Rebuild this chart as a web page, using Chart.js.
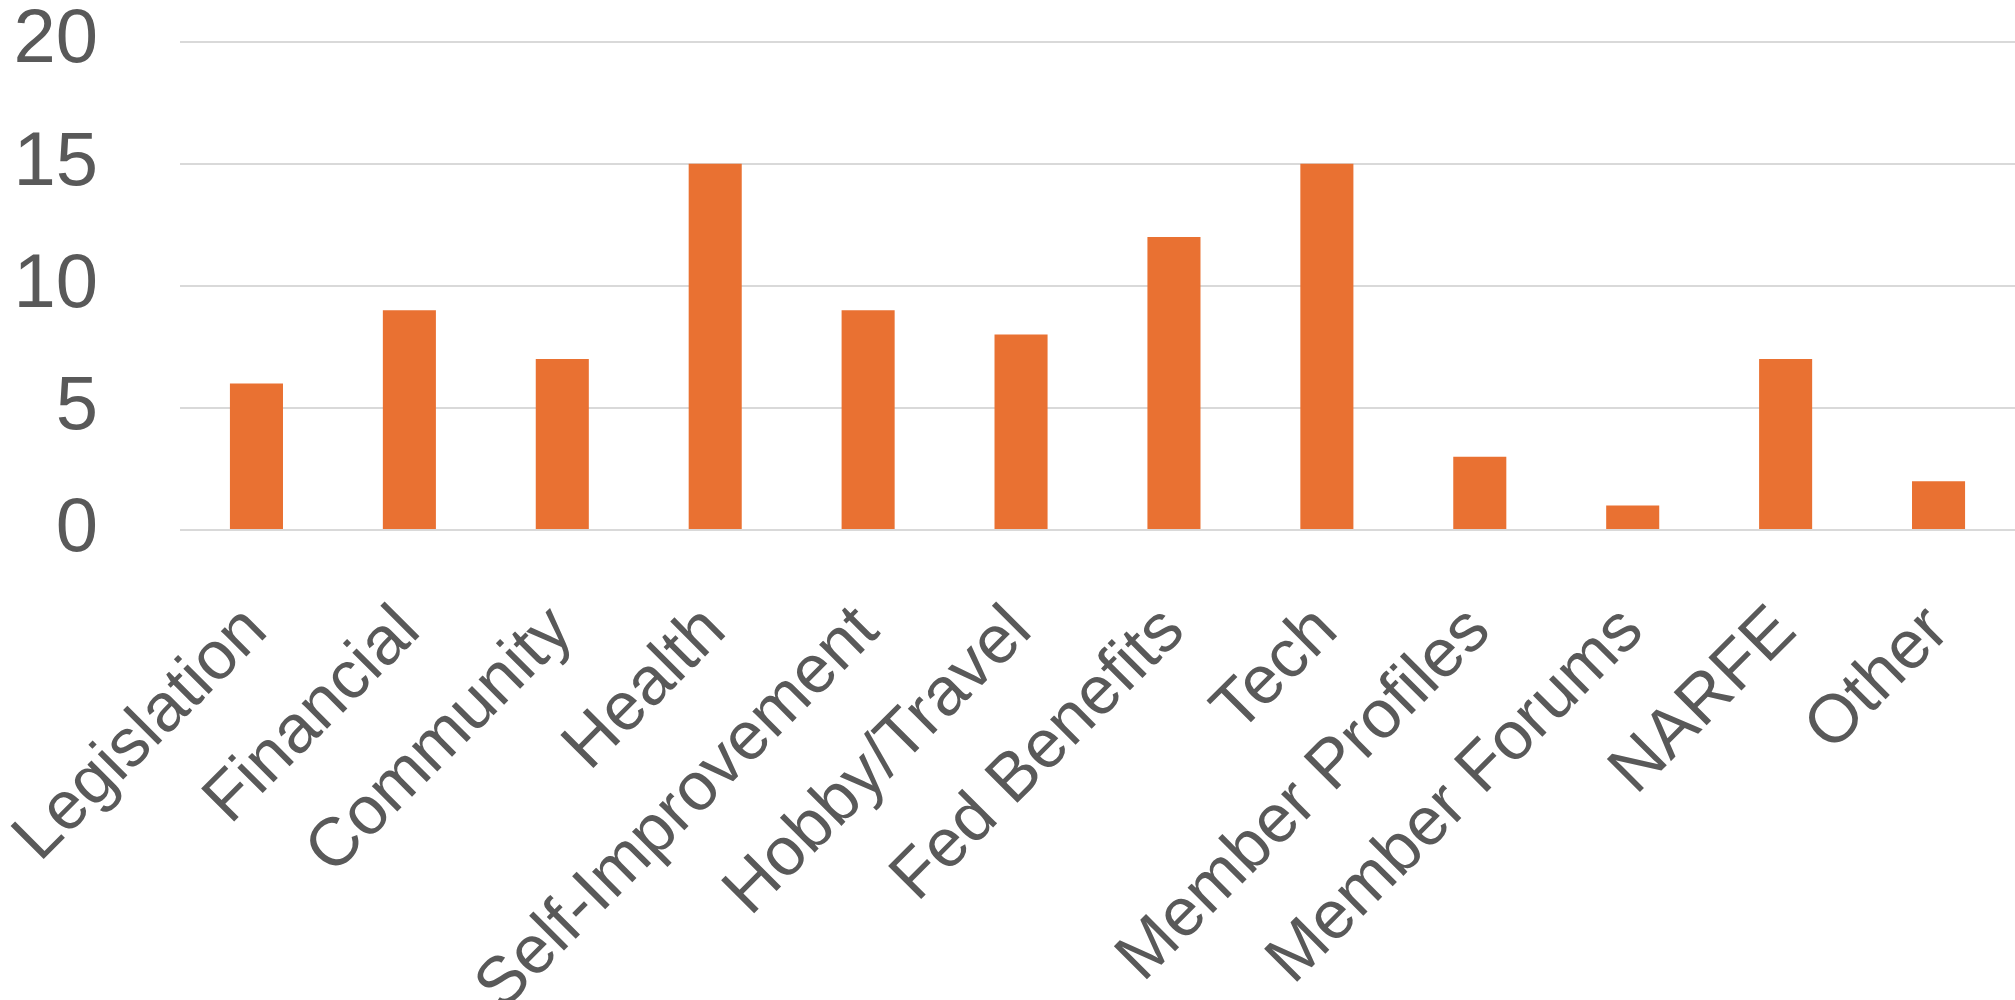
<!DOCTYPE html>
<html>
<head>
<meta charset="utf-8">
<script src="https://cdn.jsdelivr.net/npm/chart.js@4/dist/chart.umd.min.js"></script>
<style>
html,body{margin:0;padding:0;background:#fff;}
#wrap{width:2015px;height:1000px;position:relative;}
</style>
</head>
<body>
<div id="wrap"><canvas id="c" width="2015" height="1000"></canvas></div>
<script>
const categories = ["Legislation","Financial","Community","Health","Self-Improvement","Hobby/Travel","Fed Benefits","Tech","Member Profiles","Member Forums","NARFE","Other"];
const values = [6, 9, 7, 15, 9, 8, 12, 15, 3, 1, 7, 2];
const yTicks = [0, 5, 10, 15, 20];

const FONT = "'Liberation Sans', Arial, sans-serif";
function zeroPad(s) { s.paddingLeft = 0; s.paddingRight = 0; s.paddingTop = 0; s.paddingBottom = 0; }
new Chart(document.getElementById('c'), {
  type: 'bar',
  data: {
    labels: categories,
    datasets: [{
      data: values,
      backgroundColor: '#E97132',
      borderWidth: 0,
      categoryPercentage: 1.0,
      barPercentage: 0.347
    }]
  },
  options: {
    responsive: false,
    animation: false,
    devicePixelRatio: 1,
    layout: { padding: { top: 41.5, right: 0, bottom: 0, left: 0 } },
    plugins: { legend: { display: false }, tooltip: { enabled: false } },
    scales: {
      x: {
        grid: { display: false, drawTicks: false },
        border: { display: false },
        ticks: {
          color: '#595959',
          font: { family: FONT, size: 68 },
          maxRotation: 45, minRotation: 45,
          autoSkip: false,
          padding: 61
        },
        afterFit: (s) => { s.height = 470; zeroPad(s); }
      },
      y: {
        min: 0, max: 20,
        afterBuildTicks: (s) => { s.ticks = yTicks.map(v => ({ value: v })); },
        grid: { color: '#d9d9d9', lineWidth: 2, drawTicks: false },
        border: { display: false },
        ticks: {
          color: '#595959',
          font: { family: FONT, size: 76 },
          padding: 82
        },
        afterFit: (s) => { s.width = 180; zeroPad(s); }
      }
    }
  }
});
</script>
</body>
</html>
